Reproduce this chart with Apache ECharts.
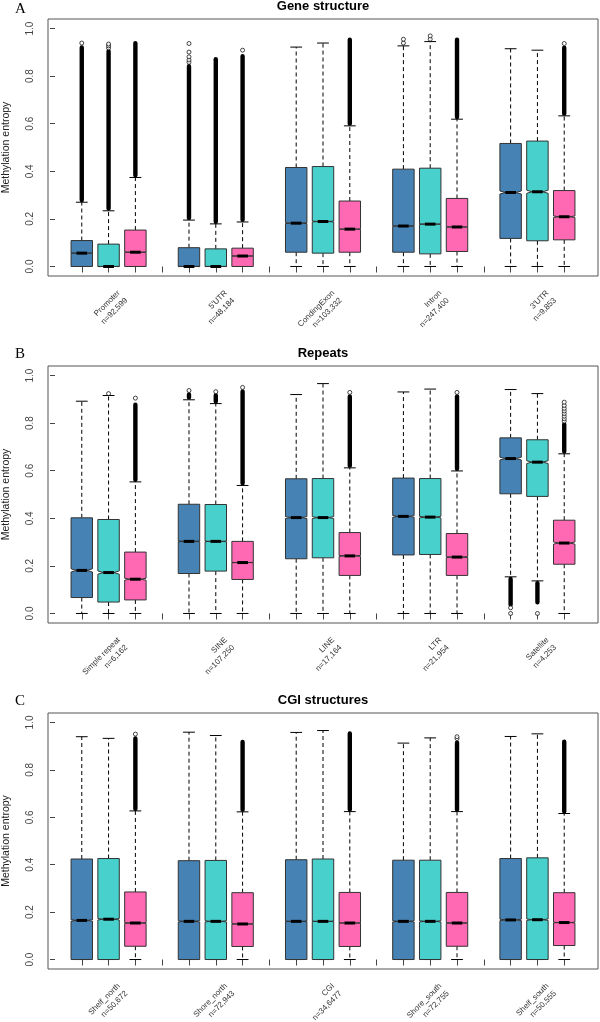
<!DOCTYPE html>
<html><head><meta charset="utf-8">
<script src="https://cdn.jsdelivr.net/npm/echarts@6/dist/echarts.min.js"></script>
<style>html,body{margin:0;padding:0;background:#fff}#c{width:600px;height:1022px}</style>
</head><body><div id="c"></div>
<script>
const COLORS = ['#4682B4', '#48D1CC', '#FF69B4'];
const FONT = 'Liberation Sans, Arial, sans-serif';
const TITLES = ['Gene structure', 'Repeats', 'CGI structures'];
const LETTERS = ['A', 'B', 'C'];
const SLOT_TICKS = [1,2,3,4,5,6,7,8,9,10,11,12,13,14,15,16,17,18,19];
const Y_TICKS = [0, 0.2, 0.4, 0.6, 0.8, 1.0];

// ---------- Panel A : Gene structure ----------
const labelsA = ['Promoter\nn=92,599', "5'UTR\nn=48,184", 'CondingExon\nn=103,332', 'Intron\nn=247,400', "3'UTR\nn=9,853"];
const countsA = [92599, 48184, 103332, 247400, 9853];
// [low whisker, Q1, median, Q3, high whisker]
const blueA = [[0,0,0.056,0.109,0.270],[0,0,0,0.079,0.195],[0,0.060,0.182,0.416,0.922],[0,0.060,0.170,0.409,0.927],[0,0.118,0.311,0.517,0.915]];
const cyanA = [[0,0,0,0.094,0.234],[0,0,0,0.074,0.179],[0,0.056,0.189,0.420,0.939],[0,0.053,0.178,0.413,0.945],[0,0.108,0.314,0.527,0.909]];
const pinkA = [[0,0,0.060,0.153,0.374],[0,0,0.044,0.077,0.187],[0,0.060,0.157,0.275,0.591],[0,0.063,0.166,0.286,0.619],[0,0.112,0.209,0.319,0.633]];
// top of dense outlier column above the upper whisker
const blueHiA = [0.925, 0.847, null, null, null];
const cyanHiA = [0.910, 0.876, null, null, null];
const pinkHiA = [0.943, 0.889, 0.958, 0.958, 0.924];
// bottom of dense outlier column below the lower whisker
const blueLoA = [null, null, null, null, null];
const cyanLoA = [null, null, null, null, null];
const pinkLoA = [null, null, null, null, null];
// separate outlier points
const blueOutA = [[0.939],[0.858,0.868,0.881,0.901,0.937],[],[0.939,0.955],[]];
const cyanOutA = [[0.918,0.927,0.935],[],[],[0.955,0.969],[]];
const pinkOutA = [[],[0.909],[],[],[0.937]];

// ---------- Panel B : Repeats ----------
const labelsB = ['Simple repeat\nn=6,162', 'SINE\nn=107,250', 'LINE\nn=17,164', 'LTR\nn=21,954', 'Satellite\nn=4,253'];
const countsB = [6162, 107250, 17164, 21954, 4253];
const blueB = [[0,0.067,0.181,0.402,0.892],[0,0.168,0.303,0.459,0.898],[0,0.230,0.403,0.566,0.920],[0,0.246,0.408,0.569,0.931],[0.154,0.503,0.651,0.738,0.941]];
const cyanB = [[0,0.048,0.172,0.395,0.916],[0,0.178,0.303,0.458,0.882],[0,0.234,0.403,0.567,0.966],[0,0.248,0.405,0.567,0.943],[0.137,0.492,0.636,0.730,0.924]];
const pinkB = [[0,0.057,0.144,0.258,0.553],[0,0.143,0.214,0.303,0.538],[0,0.160,0.242,0.340,0.612],[0,0.160,0.237,0.336,0.599],[0,0.207,0.296,0.392,0.671]];
const blueHiB = [null, 0.925, null, null, null];
const cyanHiB = [null, 0.922, null, null, null];
const pinkHiB = [0.882, 0.938, 0.917, 0.917, 0.800];
const blueLoB = [null, null, null, null, 0.032];
const cyanLoB = [null, null, null, null, 0.042];
const pinkLoB = [null, null, null, null, null];
const blueOutB = [[],[0.937],[],[],[0.024,0.0]];
const cyanOutB = [[0.924],[0.932],[],[],[0.0]];
const pinkOutB = [[0.905],[0.950],[0.929],[0.929],[0.808,0.818,0.829,0.840,0.851,0.862,0.874,0.888]];

// ---------- Panel C : CGI structures ----------
const labelsC = ['Shelf_north\nn=50,672', 'Shore_north\nn=72,943', 'CGI\nn=34,6477', 'Shore_south\nn=72,755', 'Shelf_south\nn=50,555'];
const countsC = [50672, 72943, 346477, 72755, 50555];
const blueC = [[0,0,0.165,0.424,0.940],[0,0,0.161,0.417,0.959],[0,0,0.161,0.421,0.958],[0,0,0.161,0.419,0.913],[0,0,0.167,0.426,0.941]];
const cyanC = [[0,0,0.170,0.426,0.933],[0,0,0.161,0.418,0.945],[0,0,0.161,0.424,0.966],[0,0,0.161,0.419,0.935],[0,0,0.168,0.429,0.952]];
const pinkC = [[0,0.056,0.154,0.285,0.627],[0,0.055,0.150,0.282,0.623],[0,0.055,0.154,0.283,0.624],[0,0.056,0.154,0.283,0.624],[0,0.059,0.156,0.282,0.616]];
const blueHiC = [null, null, null, null, null];
const cyanHiC = [null, null, null, null, null];
const pinkHiC = [0.938, 0.923, 0.959, 0.920, 0.924];
const blueLoC = [null, null, null, null, null];
const cyanLoC = [null, null, null, null, null];
const pinkLoC = [null, null, null, null, null];
const blueOutC = [[],[],[],[],[]];
const cyanOutC = [[],[],[],[],[]];
const pinkOutC = [[0.951],[],[],[0.932,0.940],[]];

const PANELS = [
  {labels: labelsA, counts: countsA, stats: [blueA, cyanA, pinkA], his: [blueHiA, cyanHiA, pinkHiA], los: [blueLoA, cyanLoA, pinkLoA], outs: [blueOutA, cyanOutA, pinkOutA]},
  {labels: labelsB, counts: countsB, stats: [blueB, cyanB, pinkB], his: [blueHiB, cyanHiB, pinkHiB], los: [blueLoB, cyanLoB, pinkLoB], outs: [blueOutB, cyanOutB, pinkOutB]},
  {labels: labelsC, counts: countsC, stats: [blueC, cyanC, pinkC], his: [blueHiC, cyanHiC, pinkHiC], los: [blueLoC, cyanLoC, pinkLoC], outs: [blueOutC, cyanOutC, pinkOutC]}
];

const GRID_TOPS = [19, 366, 713];
const GRID_H = [257, 257, 256];

function renderBox(params, api) {
  const x = api.value(0);
  const lo = api.value(1), q1 = api.value(2), md = api.value(3), q3 = api.value(4), hi = api.value(5);
  const nt = api.value(6), dHi = api.value(7), dLo = api.value(8);
  const Y = v => api.coord([x, v])[1];
  const cx = api.coord([x, md])[0];
  const hw = api.size([0.4, 0])[0];
  const ins = api.size([0.2, 0])[0];
  const sw = api.size([0.22, 0])[0];
  const yq1 = Y(q1), yq3 = Y(q3), ymd = Y(md), ylo = Y(lo), yhi = Y(hi);
  const nlo = Y(md - nt), nhi = Y(md + nt);
  const color = api.visual('color');
  const ch = [];
  const dash = {stroke: '#000', lineWidth: 1, lineDash: [4, 3]};
  const solid = {stroke: '#000', lineWidth: 1};
  if (dHi >= 0) {
    const yt = Y(dHi);
    ch.push({type: 'rect', shape: {x: cx - 2.2, y: yt - 1, width: 4.4, height: yhi - yt + 1, r: 2.2}, style: {fill: '#000'}});
  }
  if (dLo >= 0) {
    const yb = Y(dLo);
    ch.push({type: 'rect', shape: {x: cx - 2.2, y: ylo, width: 4.4, height: yb - ylo + 1, r: 2.2}, style: {fill: '#000'}});
  }
  ch.push({type: 'line', shape: {x1: cx, y1: yq3, x2: cx, y2: yhi}, style: dash});
  ch.push({type: 'line', shape: {x1: cx, y1: yq1, x2: cx, y2: ylo}, style: dash});
  ch.push({type: 'line', shape: {x1: cx - sw, y1: yhi, x2: cx + sw, y2: yhi}, style: solid});
  ch.push({type: 'line', shape: {x1: cx - sw, y1: ylo, x2: cx + sw, y2: ylo}, style: solid});
  ch.push({type: 'polygon', shape: {points: [
    [cx - hw, yq1], [cx - hw, nlo], [cx - ins, ymd], [cx - hw, nhi], [cx - hw, yq3],
    [cx + hw, yq3], [cx + hw, nhi], [cx + ins, ymd], [cx + hw, nlo], [cx + hw, yq1]
  ]}, style: {fill: color, stroke: '#333', lineWidth: 1}});
  ch.push({type: 'line', shape: {x1: cx - ins, y1: ymd, x2: cx + ins, y2: ymd}, style: {stroke: '#000', lineWidth: 3}});
  return {type: 'group', children: ch};
}

const grids = [], xAxes = [], yAxes = [], series = [], titles = [];
PANELS.forEach((P, p) => {
  grids.push({left: 48, right: 2, top: GRID_TOPS[p], height: GRID_H[p], show: true, borderColor: '#555', borderWidth: 1,
    backgroundColor: 'transparent', containLabel: false, outerBoundsMode: 'none'});
  const labelPos = P.labels.map((_, g) => 4 * g + 2 + 0.52);
  xAxes.push({type: 'value', gridIndex: p, min: -0.26, max: 20.26,
    axisLine: {show: false}, splitLine: {show: false},
    axisTick: {show: true, length: 6, customValues: SLOT_TICKS, lineStyle: {color: '#444', width: 1}},
    axisLabel: {show: true, customValues: labelPos, rotate: 45, margin: 19.5, fontSize: 8, lineHeight: 10.5,
      color: '#333', fontFamily: FONT, hideOverlap: false,
      formatter: v => P.labels[Math.round((v - 2) / 4)]}});
  yAxes.push({type: 'value', gridIndex: p, min: -0.04, max: 1.04,
    name: 'Methylation entropy', nameLocation: 'middle', nameGap: 36, nameRotate: 90, nameMoveOverlap: false,
    nameTextStyle: {fontSize: 10.5, color: '#222', fontFamily: FONT},
    axisLine: {show: false}, splitLine: {show: false},
    axisTick: {show: true, length: 5, customValues: Y_TICKS, lineStyle: {color: '#444', width: 1}},
    axisLabel: {show: true, customValues: Y_TICKS, rotate: 90, margin: 13, fontSize: 10, color: '#444',
      fontFamily: FONT, formatter: v => v.toFixed(1)}});
  P.stats.forEach((arr, j) => {
    const data = arr.map((s, g) => {
      const notch = 1.58 * (s[3] - s[1]) / Math.sqrt(P.counts[g]);
      const dh = P.his[j][g], dl = P.los[j][g];
      return [4 * g + j + 1, s[0], s[1], s[2], s[3], s[4], notch, dh == null ? -1 : dh, dl == null ? -1 : dl];
    });
    series.push({type: 'custom', xAxisIndex: p, yAxisIndex: p, data: data, renderItem: renderBox,
      encode: {x: 0, y: [1, 2, 3, 4, 5]}, itemStyle: {color: COLORS[j]}, silent: true, animation: false, z: 2});
    const pts = [];
    P.outs[j].forEach((list, g) => list.forEach(v => pts.push([4 * g + j + 1, v])));
    series.push({type: 'scatter', xAxisIndex: p, yAxisIndex: p, data: pts, symbol: 'circle', symbolSize: 4,
      itemStyle: {color: '#fff', borderColor: '#000', borderWidth: 0.9}, silent: true, animation: false, z: 3});
  });
});

const titleTops = [0, 347, 694];
const letterTops = [2, 347, 694];
TITLES.forEach((t, p) => {
  titles.push({text: t, left: 323, top: titleTops[p], textAlign: 'center', padding: 0,
    textStyle: {fontSize: 13, fontWeight: 'bold', color: '#000', fontFamily: FONT, lineHeight: 13}});
  titles.push({text: LETTERS[p], left: 15, top: letterTops[p], padding: 0,
    textStyle: {fontSize: 15, fontWeight: 'normal', color: '#000', fontFamily: 'Liberation Serif, Times New Roman, serif', lineHeight: 15}});
});

const chart = echarts.init(document.getElementById('c'), null, {renderer: 'canvas'});
chart.setOption({
  animation: false,
  backgroundColor: '#fff',
  title: titles,
  grid: grids,
  xAxis: xAxes,
  yAxis: yAxes,
  series: series
});
</script>
</body></html>
